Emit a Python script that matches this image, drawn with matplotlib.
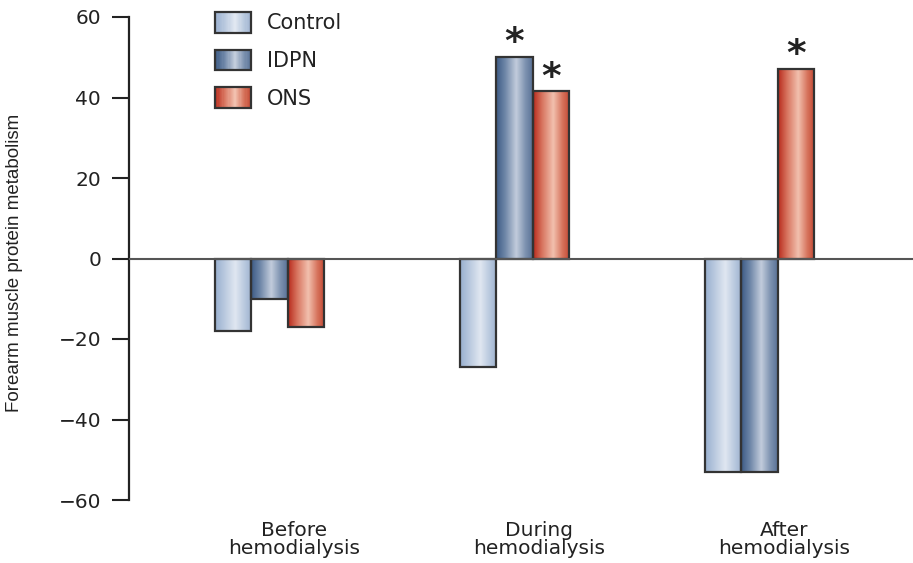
import numpy as np
import matplotlib
matplotlib.use('Agg')
import matplotlib.pyplot as plt
from matplotlib.colors import LinearSegmentedColormap
from matplotlib.patches import Rectangle, Patch
from matplotlib.legend_handler import HandlerBase

# Data
groups = ['Before\nhemodialysis', 'During\nhemodialysis', 'After\nhemodialysis']
series = ['Control', 'IDPN', 'ONS']
control = [-18, -27, -53]
idpn = [-10, 50, -53]
ons = [-17, 41.5, 47]
significant = {'IDPN': [False, True, False], 'ONS': [False, True, True]}
yticks = [-60, -40, -20, 0, 20, 40, 60]

plt.rcParams['font.family'] = ['DejaVu Sans']

# Cylinder-like gradients (edge dark -> light -> edge)
cmaps = {
    'Control': LinearSegmentedColormap.from_list(
        'c', [(0, '#98afcf'), (0.25, '#b8c8de'), (0.55, '#e0e7f1'),
              (0.8, '#b9c9de'), (1, '#9db2cf')]),
    'IDPN': LinearSegmentedColormap.from_list(
        'i', [(0, '#3b5a84'), (0.25, '#6f87a8'), (0.55, '#c2ccdc'),
              (0.8, '#7d92b0'), (1, '#587196')]),
    'ONS': LinearSegmentedColormap.from_list(
        'o', [(0, '#b82a1c'), (0.25, '#d87560'), (0.55, '#f2c0ae'),
              (0.8, '#d6735c'), (1, '#c24632')]),
}
edge = '#333333'

fig = plt.figure(figsize=(9.13, 5.63), dpi=100)
ax = fig.add_axes([129 / 913, 1 - 500 / 563, 1 - 129 / 913, (500 - 17) / 563])

x = np.arange(len(groups))
w = 0.148
grad = np.linspace(0, 1, 256).reshape(1, -1)

for k, (name, vals) in enumerate(zip(series, [control, idpn, ons])):
    bars = ax.bar(x + (k - 1) * w, vals, width=w, facecolor='none',
                  edgecolor=edge, linewidth=1.6, zorder=3)
    for b in bars:
        x0, y0 = b.get_x(), min(0, b.get_height())
        x1, y1 = x0 + b.get_width(), max(0, b.get_height())
        im = ax.imshow(grad, extent=[x0, x1, y0, y1], cmap=cmaps[name],
                       aspect='auto', zorder=2, interpolation='bilinear')
        im.set_clip_path(b)
    if name in significant:
        for b, s in zip(bars, significant[name]):
            if s:
                ax.annotate('*', (b.get_x() + b.get_width() / 2, b.get_height()),
                            xytext=(0, -3), textcoords='offset points',
                            ha='center', va='bottom', fontsize=27,
                            fontweight='bold', color='#222222')

ax.axhline(0, color='#555555', linewidth=1.5, zorder=4)

ax.set_xlim(-0.573, 2.627)
ax.set_ylim(-60, 60)
ax.set_yticks(yticks)
ax.set_yticklabels([str(t).replace('-', '\u2212') for t in yticks])
ax.set_xticks(x + 0.1)
ax.set_xticklabels(groups, fontsize=14.5, linespacing=0.95, color='#222222')
ax.tick_params(axis='x', length=0, pad=15)
ax.tick_params(axis='y', length=12, width=1.5, pad=8, labelsize=14.5,
               color='#222222', labelcolor='#222222')

for side in ['top', 'right', 'bottom']:
    ax.spines[side].set_visible(False)
ax.spines['left'].set_linewidth(1.6)
ax.spines['left'].set_color('#222222')

ax.set_ylabel('Forearm muscle protein metabolism', fontsize=13.5,
              family=['Liberation Sans Narrow', 'Liberation Sans'], color='#222222')
ax.yaxis.set_label_coords(-0.135, 0.49)


class GradHandler(HandlerBase):
    def __init__(self, cmap):
        super().__init__()
        self.cmap = cmap

    def create_artists(self, legend, orig_handle, xdescent, ydescent,
                       width, height, fontsize, trans):
        n = 30
        arts = []
        for i in range(n):
            arts.append(Rectangle((-xdescent + width * i / n, -ydescent),
                                  width / n * 1.05, height,
                                  facecolor=self.cmap((i + 0.5) / n),
                                  edgecolor='none', transform=trans))
        arts.append(Rectangle((-xdescent, -ydescent), width, height,
                              facecolor='none', edgecolor=edge, linewidth=1.6,
                              transform=trans))
        return arts


handles = [Patch(label=s) for s in series]
leg = ax.legend(handles=handles, labels=series,
                handler_map={h: GradHandler(cmaps[s]) for h, s in zip(handles, series)},
                loc='upper left', bbox_to_anchor=(215 / 913, 1 - 12 / 563),
                bbox_transform=fig.transFigure, frameon=False, fontsize=15,
                handlelength=1.75, handleheight=1.15, handletextpad=0.75,
                labelspacing=0.78, borderpad=0, borderaxespad=0)
for t in leg.get_texts():
    t.set_color('#222222')

fig.savefig('out.png', dpi=100, facecolor='white')
